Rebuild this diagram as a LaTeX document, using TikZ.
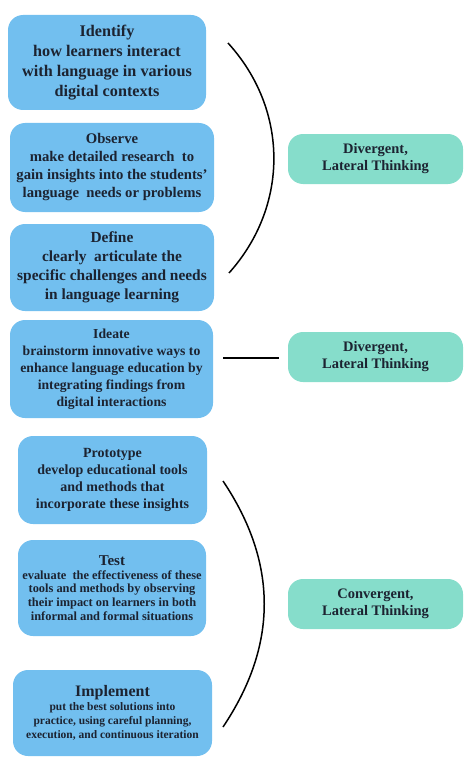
\documentclass[tikz,border=0pt]{standalone}
\usepackage{fontspec}
\setmainfont{Liberation Serif}
\usepackage{tikz}
\definecolor{bb}{RGB}{114, 191, 239}
\definecolor{gg}{RGB}{134, 221, 203}
\definecolor{tt}{RGB}{28, 35, 49}
\usetikzlibrary{positioning}
\tikzset{
  bluebox/.style={rectangle, rounded corners=15pt, fill=bb, draw=none, align=center, text=tt, inner sep=0pt},
  greenbox/.style={rectangle, rounded corners=15pt, fill=gg, draw=none, align=center, text=tt, inner sep=0pt,
    minimum width=175pt, minimum height=50pt, font=\bfseries\fontsize{14.5}{17}\selectfont},
}

\begin{document}
\begin{tikzpicture}
\useasboundingbox (0pt, 0pt) rectangle (467pt, -757pt);
\node (identify) [bluebox, minimum width=198pt, minimum height=95pt, font=\bfseries\fontsize{16.2}{20}\selectfont] at (107pt, -62.5pt) {Identify\\how learners interact\\with language in various\\digital contexts};
\node (observe) [bluebox, minimum width=204pt, minimum height=89pt, font=\bfseries\fontsize{14.7}{18}\selectfont] at (112pt, -167.5pt) {Observe\\make detailed research~ to\\gain insights into the students'\\language~ needs or problems};
\node (define) [bluebox, minimum width=204pt, minimum height=87pt, font=\bfseries\fontsize{15.4}{19}\selectfont] at (112pt, -267.5pt) {Define\\clearly~ articulate the\\specific challenges and needs\\in language learning};
\node (ideate) [bluebox, minimum width=203pt, minimum height=98pt, font=\bfseries\fontsize{13.7}{17}\selectfont] at (111.5pt, -369pt) {Ideate\\brainstorm innovative ways to\\enhance language education by\\integrating findings from\\digital interactions};
\node (prototype) [bluebox, minimum width=189pt, minimum height=88pt, font=\bfseries\fontsize{14}{17}\selectfont] at (112.5pt, -480pt) {Prototype\\develop educational tools\\and methods that\\incorporate these insights};
\node (test) [bluebox, minimum width=188pt, minimum height=96pt, font=\bfseries\fontsize{12.4}{13.6}\selectfont] at (112pt, -588pt) {{\fontsize{15}{16}\selectfont Test}\\evaluate~ the effectiveness of these\\tools and methods by observing\\their impact on learners in both\\informal and formal situations};
\node (implement) [bluebox, minimum width=199pt, minimum height=86pt, font=\bfseries\fontsize{11.5}{14}\selectfont] at (112.5pt, -713pt) {{\fontsize{16}{17}\selectfont Implement}\\put the best solutions into\\practice, using careful planning,\\execution, and continuous iteration};
\node (div1) [greenbox] at (375.5pt, -159pt) {Divergent,\\Lateral Thinking};
\node (div2) [greenbox] at (375.5pt, -357pt) {Divergent,\\Lateral Thinking};
\node (conv) [greenbox] at (375.5pt, -604pt) {Convergent,\\Lateral Thinking};
\coordinate (topa) at (228pt, -43pt);
\coordinate (topb) at (229pt, -273pt);
\coordinate (mida) at (223pt, -358pt);
\coordinate (midb) at (279pt, -358pt);
\coordinate (bota) at (223pt, -481pt);
\coordinate (botb) at (223pt, -727pt);
\draw [line width=1.5pt, color=black] (topa) .. controls (289pt, -110pt) and (289pt, -206pt) .. (topb);
\draw [line width=1.5pt, color=black] (mida) to (midb);
\draw [line width=1.5pt, color=black] (bota) .. controls (278pt, -563pt) and (278pt, -645pt) .. (botb);
\end{tikzpicture}
\end{document}
